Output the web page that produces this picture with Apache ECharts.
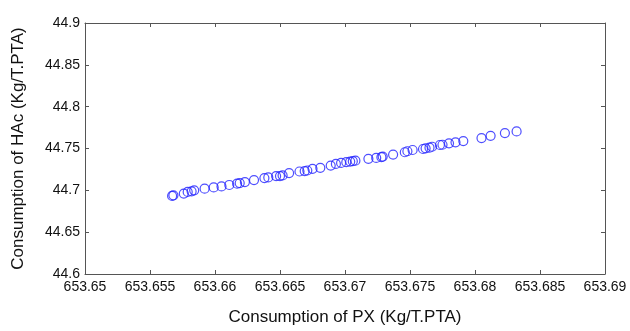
<!DOCTYPE html>
<html>
<head>
<meta charset="utf-8">
<script src="https://cdn.jsdelivr.net/npm/echarts@6/dist/echarts.min.js"></script>
<style>html,body{margin:0;padding:0;background:#fff}#c{width:630px;height:331px}</style>
</head>
<body>
<div id="c"></div>
<script>
var pxValues = [653.6567,653.6568,653.6576,653.6579,653.6582,653.6584,653.6592,653.6599,653.6605,653.6611,
653.6617,653.6619,653.6623,653.6630,653.6638,653.6641,653.6647,653.6650,653.6652,653.6657,
653.6665,653.6669,653.6671,653.6675,653.6681,653.6689,653.6693,653.6697,653.6701,653.6704,
653.6706,653.6708,653.6718,653.6724,653.6728,653.6729,653.6737,653.6746,653.6748,653.6752,
653.6760,653.6762,653.6765,653.6767,653.6773,653.6775,653.6780,653.6785,653.6791,653.6805,
653.6812,653.6823,653.6832];
var hacValues = [44.6933,44.6940,44.6961,44.6981,44.6988,44.7000,44.7020,44.7035,44.7047,44.7064,
44.7079,44.7087,44.7099,44.7123,44.7147,44.7154,44.7170,44.7170,44.7178,44.7206,
44.7225,44.7230,44.7237,44.7257,44.7269,44.7296,44.7316,44.7328,44.7336,44.7344,
44.7348,44.7355,44.7376,44.7387,44.7396,44.7403,44.7427,44.7455,44.7467,44.7482,
44.7494,44.7502,44.7510,44.7521,44.7542,44.7545,44.7562,44.7574,44.7589,44.7625,
44.7652,44.7684,44.7704];
var xTickLabels = ['653.65','653.655','653.66','653.665','653.67','653.675','653.68','653.685','653.69'];
var yTickLabels = ['44.6','44.65','44.7','44.75','44.8','44.85','44.9'];
var xTitle = 'Consumption of PX (Kg/T.PTA)';
var yTitle = 'Consumption of HAc (Kg/T.PTA)';

var points = pxValues.map(function(v,i){return [v, hacValues[i]];});
var axisColor = '#555';
var font = 'Liberation Sans, Arial, sans-serif';
function xLab(v){
  var idx = Math.round((v - 653.65)/0.005);
  return xTickLabels[idx] !== undefined ? xTickLabels[idx] : '';
}
function yLab(v){
  var idx = Math.round((v - 44.6)/0.05);
  return yTickLabels[idx] !== undefined ? yTickLabels[idx] : '';
}
var chart = echarts.init(document.getElementById('c'), null, {renderer:'canvas'});
var xBase = {type:'value', min:653.65, max:653.69, interval:0.005, scale:true,
  axisLine:{show:true, onZero:false, lineStyle:{color:axisColor, width:1}},
  axisTick:{show:true, inside:true, length:4, lineStyle:{color:axisColor}},
  splitLine:{show:false}};
var yBase = {type:'value', min:44.6, max:44.9, interval:0.05, scale:true,
  axisLine:{show:true, onZero:false, lineStyle:{color:axisColor, width:1}},
  axisTick:{show:true, inside:true, length:4, lineStyle:{color:axisColor}},
  splitLine:{show:false}};
chart.setOption({
  animation:false,
  backgroundColor:'#fff',
  grid:{left:85, right:25, top:23, bottom:55, containLabel:false},
  xAxis:[
    Object.assign({}, xBase, {position:'bottom',
      name:xTitle, nameLocation:'middle', nameGap:35,
      nameTextStyle:{color:'#111', fontSize:17, fontFamily:font},
      axisLabel:{show:true, color:'#111', fontSize:14, fontFamily:font, margin:6, formatter:xLab, showMinLabel:true, showMaxLabel:true}}),
    Object.assign({}, xBase, {position:'top', axisLabel:{show:false}})
  ],
  yAxis:[
    Object.assign({}, yBase, {position:'left',
      name:yTitle, nameLocation:'middle', nameGap:58,
      nameTextStyle:{color:'#111', fontSize:17, fontFamily:font},
      axisLabel:{show:true, color:'#111', fontSize:14, fontFamily:font, margin:5, formatter:yLab, showMinLabel:true, showMaxLabel:true}}),
    Object.assign({}, yBase, {position:'right', axisLabel:{show:false}})
  ],
  series:[{
    type:'scatter', xAxisIndex:0, yAxisIndex:0,
    data:points,
    symbol:'circle', symbolSize:9,
    itemStyle:{color:'rgba(0,0,0,0)', borderColor:'#2222ff', borderWidth:1.2},
    emphasis:{disabled:true}
  }]
});
</script>
</body>
</html>
